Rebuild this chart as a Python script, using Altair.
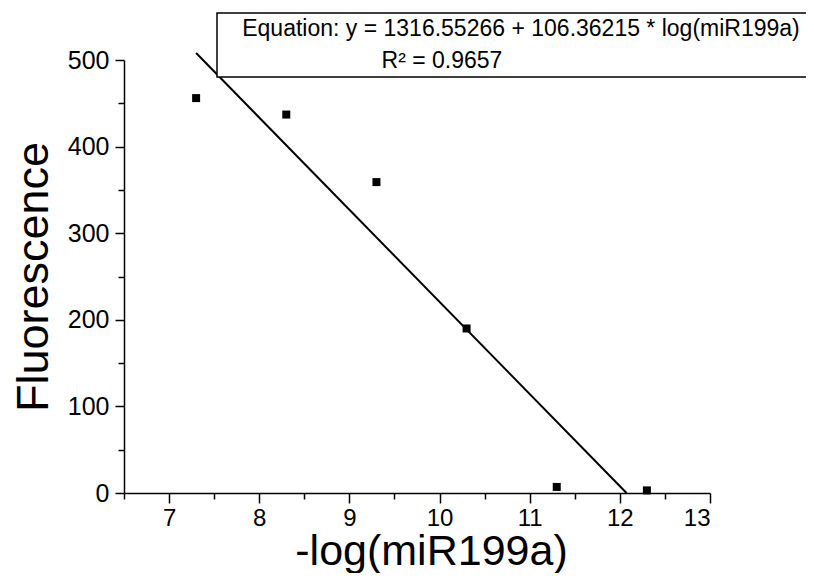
import altair as alt
import pandas as pd
import numpy as np

# ---- data ----
neg_log = [7.3, 8.3, 9.3, 10.3, 11.3, 12.3]
fluor = [456, 437, 359, 190, 7, 3]

x_major = [7, 8, 9, 10, 11, 12, 13]
x_minor = [6.5, 7.5, 8.5, 9.5, 10.5, 11.5, 12.5]
y_major = [0, 100, 200, 300, 400, 500]
y_minor = [50, 150, 250, 350, 450]

equation_text = ["Equation: y = 1316.55266 + 106.36215 * log(miR199a)"]
r2_text = ["R\u00b2 = 0.9657"]

x_title = "-log(miR199a)"
y_title = "Fluorescence"

# ---- tables ----
df = pd.DataFrame({"x": neg_log, "y": fluor})
slope, intercept = np.polyfit(neg_log, fluor, 1)
fit_x = [min(neg_log), -intercept / slope]
fit = pd.DataFrame({"x": fit_x, "y": [intercept + slope * v for v in fit_x]})

FONT = "Liberation Sans"
xscale = alt.Scale(domain=[6.5, 13], nice=False, zero=False)
yscale = alt.Scale(domain=[0, 500], nice=False)

W, H = 586, 433

pts = alt.Chart(df).mark_square(size=64, color="black", opacity=1).encode(
    x=alt.X("x:Q", scale=xscale, axis=alt.Axis(
        orient="bottom", values=x_major, tickSize=10, tickWidth=1.5, tickColor="black",
        domainColor="black", domainWidth=1.5, labelFont=FONT, labelFontSize=24,
        labelColor="black", labelPadding=3, grid=False, format="d",
        title=x_title, titleFont=FONT, titleFontSize=43, titleFontWeight="normal",
        titleColor="black", titleX=307, titleY=71, titleBaseline="alphabetic",
        titleAlign="center")),
    y=alt.Y("y:Q", scale=yscale, axis=alt.Axis(
        orient="left", values=y_major, tickSize=9, tickWidth=1.5, tickColor="black",
        domainColor="black", domainWidth=1.5, labelFont=FONT, labelFontSize=25,
        labelColor="black", labelPadding=6, grid=False,
        title=y_title, titleFont=FONT, titleFontSize=45, titleFontWeight="normal",
        titleColor="black", titleX=-91, titleY=H / 2, titleAngle=-90,
        titleBaseline="middle", titleAlign="center")),
)

line = alt.Chart(fit).mark_line(color="black", strokeWidth=2).encode(
    x=alt.X("x:Q", scale=xscale, axis=alt.Axis(
        orient="bottom", values=x_minor, tickSize=6, tickWidth=1.5, tickColor="black",
        labels=False, domain=False, grid=False, title=None)),
    y=alt.Y("y:Q", scale=yscale, axis=alt.Axis(
        orient="left", values=y_minor, tickSize=6, tickWidth=1.5, tickColor="black",
        labels=False, domain=False, grid=False, title=None)),
)

box = alt.Chart(pd.DataFrame({"k": [0]})).mark_rect(
    fill="white", stroke="black", strokeWidth=1.5
).encode(x=alt.value(93), x2=alt.value(730), y=alt.value(-47), y2=alt.value(17))

eq = alt.Chart(pd.DataFrame({"label": equation_text})).mark_text(
    font=FONT, fontSize=23, color="black", align="center", baseline="alphabetic"
).encode(text="label:N", x=alt.value(397), y=alt.value(-24))

r2 = alt.Chart(pd.DataFrame({"label": r2_text})).mark_text(
    font=FONT, fontSize=23, color="black", align="center", baseline="alphabetic"
).encode(text="label:N", x=alt.value(318), y=alt.value(8))

chart = alt.layer(line, pts, box, eq, r2).resolve_axis(
    x="independent", y="independent"
).properties(
    width=W, height=H,
    autosize=alt.AutoSizeParams(type="none"),
    padding={"left": 116, "top": 52, "right": 96, "bottom": 80},
    background="white",
).configure_view(stroke=None)

chart.save("out.html", embed_options={"renderer": "svg", "actions": False})
